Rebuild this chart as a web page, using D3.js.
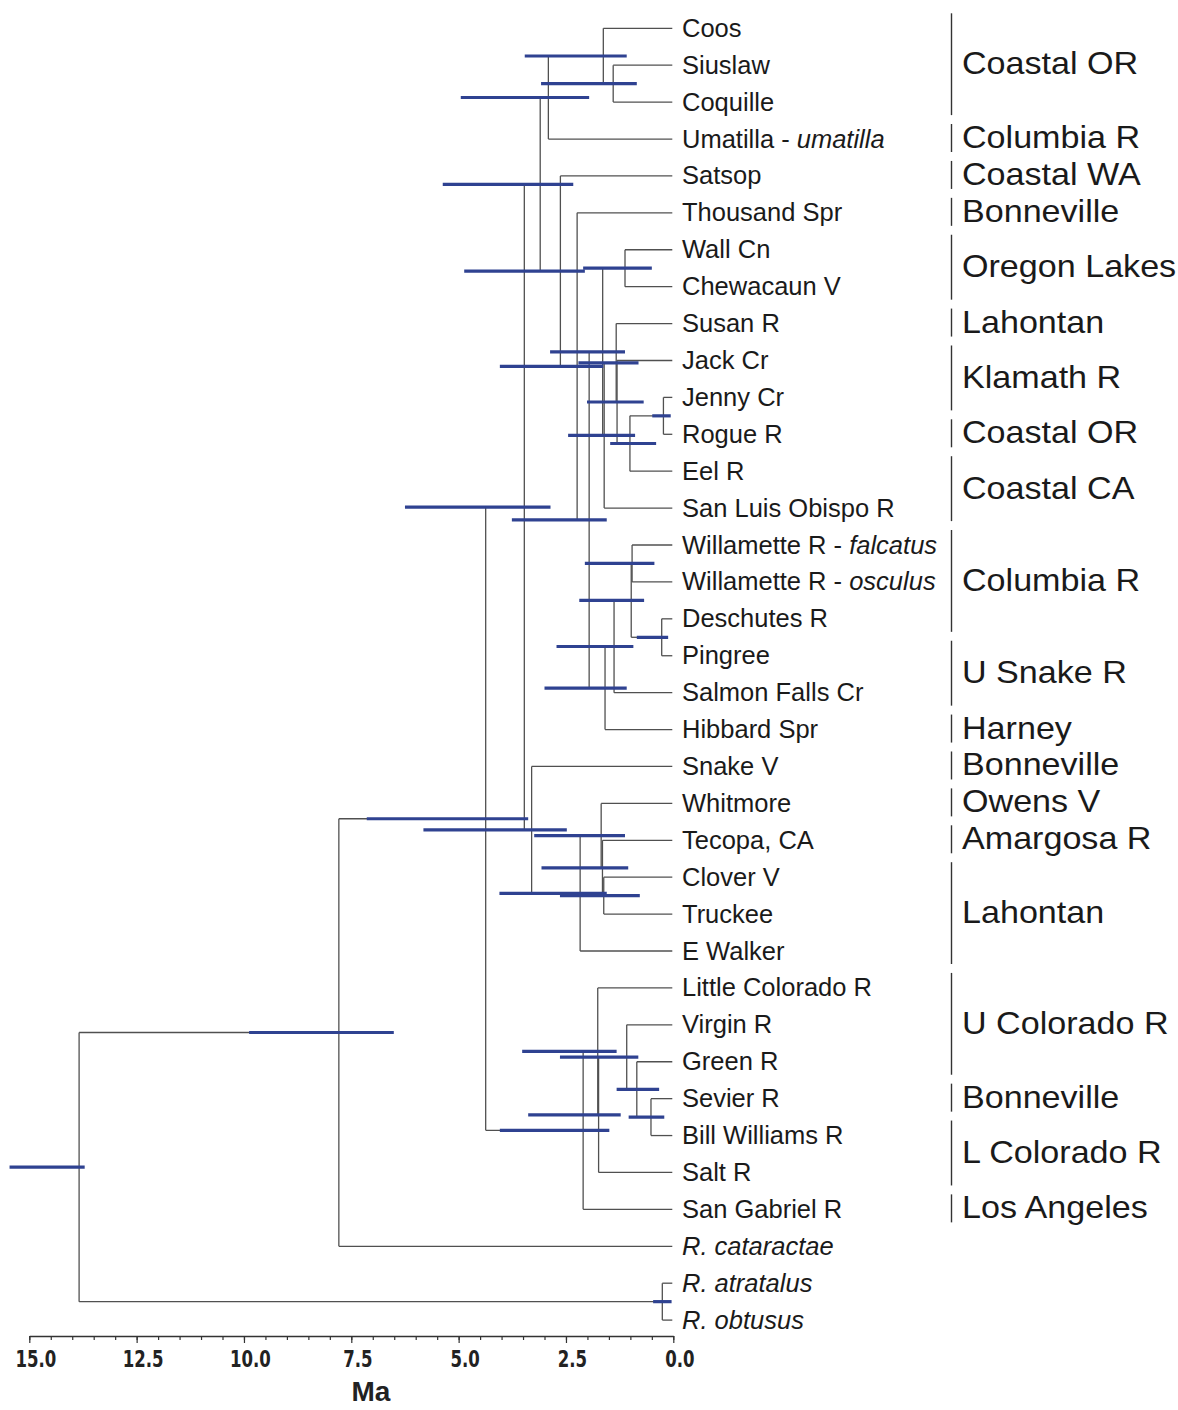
<!DOCTYPE html>
<html><head><meta charset="utf-8">
<script src="https://cdn.jsdelivr.net/npm/d3@7"></script>
<style>body{margin:0;background:#fff} svg{display:block}</style>
</head><body>
<svg id="chart" width="1178" height="1410"></svg>
<script>
// ---------- DATA ----------
const tipRoman = ["Coos","Siuslaw","Coquille","Umatilla - ","Satsop","Thousand Spr","Wall Cn","Chewacaun V","Susan R","Jack Cr","Jenny Cr","Rogue R","Eel R","San Luis Obispo R","Willamette R - ","Willamette R - ","Deschutes R","Pingree","Salmon Falls Cr","Hibbard Spr","Snake V","Whitmore","Tecopa, CA","Clover V","Truckee","E Walker","Little Colorado R","Virgin R","Green R","Sevier R","Bill Williams R","Salt R","San Gabriel R","","",""];
const tipItalic = ["","","","umatilla","","","","","","","","","","","falcatus","osculus","","","","","","","","","","","","","","","","","","R. cataractae","R. atratalus","R. obtusus"];

// internal nodes: children (tip labels or node ids), age (Ma), 95% HPD [low, high]
const nodes = [
 {id:"root", children:["nCat","nAO"], age:13.84, hpd:[13.71,15.46]},
 {id:"nCat", children:["n485","R. cataractae"], age:7.79, hpd:[6.51,9.88]},
 {id:"n485", children:["n524","n583"], age:4.37, hpd:[3.38,7.14]},
 {id:"n524", children:["n540","n531"], age:3.47, hpd:[2.86,6.25]},
 {id:"n540", children:["n548","n560"], age:3.10, hpd:[2.33,5.37]},
 {id:"n548", children:["nCoos","Umatilla - umatilla"], age:2.91, hpd:[1.96,4.95]},
 {id:"nCoos", children:["Coos","nSC"], age:1.63, hpd:[1.085,3.46]},
 {id:"nSC", children:["Siuslaw","Coquille"], age:1.40, hpd:[0.85,3.08]},
 {id:"n560", children:["Satsop","n577"], age:2.63, hpd:[2.06,4.87]},
 {id:"n577", children:["Thousand Spr","n589"], age:2.24, hpd:[1.63,4.04]},
 {id:"n589", children:["n602","n605"], age:1.96, hpd:[1.55,3.76]},
 {id:"n602", children:["nWC","n604"], age:1.645, hpd:[1.125,2.87]},
 {id:"nWC", children:["Wall Cn","Chewacaun V"], age:1.125, hpd:[0.50,2.10]},
 {id:"n604", children:["n616","San Luis Obispo R"], age:1.61, hpd:[0.89,2.45]},
 {id:"n616", children:["Susan R","nZ"], age:1.33, hpd:[0.81,2.21]},
 {id:"nZ", children:["Jack Cr","n630"], age:1.31, hpd:[0.69,2.01]},
 {id:"n630", children:["nJR","Eel R"], age:1.01, hpd:[0.40,1.47]},
 {id:"nJR", children:["Jenny Cr","Rogue R"], age:0.23, hpd:[0.06,0.49]},
 {id:"n605", children:["n614","Hibbard Spr"], age:1.59, hpd:[1.085,3.00]},
 {id:"n614", children:["n600","Salmon Falls Cr"], age:1.38, hpd:[0.93,2.72]},
 {id:"n600", children:["nWW","nDP"], age:0.98, hpd:[0.68,2.19]},
 {id:"nWW", children:["Willamette R - falcatus","Willamette R - osculus"], age:0.96, hpd:[0.44,2.06]},
 {id:"nDP", children:["Deschutes R","Pingree"], age:0.27, hpd:[0.12,0.85]},
 {id:"n531", children:["Snake V","n580"], age:3.30, hpd:[2.48,5.82]},
 {id:"n580", children:["n601","E Walker"], age:2.17, hpd:[1.55,4.05]},
 {id:"n601", children:["Whitmore","n868"], age:1.68, hpd:[1.125,3.24]},
 {id:"n868", children:["Tecopa, CA","n896"], age:1.65, hpd:[1.05,3.07]},
 {id:"n896", children:["Clover V","Truckee"], age:1.62, hpd:[0.78,2.64]},
 {id:"n583", children:["n597","San Gabriel R"], age:2.10, hpd:[1.49,4.04]},
 {id:"n597", children:["Little Colorado R","n598"], age:1.76, hpd:[1.32,3.52]},
 {id:"n598", children:["n626","Salt R"], age:1.74, hpd:[1.225,3.38]},
 {id:"n626", children:["Virgin R","n636"], age:1.085, hpd:[0.815,2.64]},
 {id:"n636", children:["Green R","n651"], age:0.85, hpd:[0.33,1.32]},
 {id:"n651", children:["Sevier R","Bill Williams R"], age:0.52, hpd:[0.21,1.04]},
 {id:"nAO", children:["R. atratalus","R. obtusus"], age:0.256, hpd:[0.04,0.47]}
];

const regionNames = ["Coastal OR","Columbia R","Coastal WA","Bonneville","Oregon Lakes","Lahontan","Klamath R","Coastal OR","Coastal CA","Columbia R","U Snake R","Harney","Bonneville","Owens V","Amargosa R","Lahontan","U Colorado R","Bonneville","L Colorado R","Los Angeles"];
const regionFirstTip = [0,3,4,5,6,8,9,11,12,14,17,19,20,21,22,23,26,29,30,32];
const regionLastTip  = [2,3,4,5,7,8,10,11,13,16,18,19,20,21,22,25,28,29,31,32];

const majorTicks = [15,12.5,10,7.5,5,2.5,0];
const minorTicks = d3.range(0,15.001,0.5);
const axisTitle = "Ma";

// ---------- LAYOUT ----------
const svg = d3.select("#chart");
const tipKeys = tipRoman.map((r,i)=>r+tipItalic[i]);
const x = d3.scaleLinear().domain([15,0]).range([29.3,673.3]);
const y = d3.scalePoint().domain(tipKeys).range([28.3,1320.1]);

const parentOf = {};
nodes.forEach(n=>n.children.forEach(c=>parentOf[c]=n.id));
const rows = nodes.map(n=>({id:n.id, age:n.age, hpd:n.hpd}))
  .concat(tipKeys.map((k,i)=>({id:k, age:0, tip:i})));
const root = d3.stratify().id(d=>d.id).parentId(d=>parentOf[d.id])(rows);
root.eachAfter(d=>{
  if(!d.children){ d.yy = y(d.id); d.minTip=d.data.tip; }
  else {
    d.children.sort((a,b)=>a.minTip-b.minTip);
    d.minTip = d.children[0].minTip;
    d.yy = (d.children[0].yy + d.children[d.children.length-1].yy)/2;
  }
  d.xx = x(d.data.age);
});

const branchColor = "#505050";
const gTree = svg.append("g");
gTree.selectAll("line.h").data(root.descendants().filter(d=>d.parent)).join("line")
  .attr("x1",d=>d.parent.xx).attr("x2",d=>d.data.tip!==undefined ? x(0)-1 : d.xx)
  .attr("y1",d=>d.yy).attr("y2",d=>d.yy)
  .attr("stroke",branchColor).attr("stroke-width",1.3);
gTree.selectAll("line.v").data(root.descendants().filter(d=>d.children)).join("line")
  .attr("x1",d=>d.xx).attr("x2",d=>d.xx)
  .attr("y1",d=>d.children[0].yy).attr("y2",d=>d.children[d.children.length-1].yy)
  .attr("stroke",branchColor).attr("stroke-width",1.3);
gTree.selectAll("line.hpd").data(root.descendants().filter(d=>d.children)).join("line")
  .attr("x1",d=>x(d.data.hpd[1])).attr("x2",d=>x(d.data.hpd[0]))
  .attr("y1",d=>d.yy).attr("y2",d=>d.yy)
  .attr("stroke","#2f4291").attr("stroke-width",3.2);

// tip labels
const tipText = svg.append("g").attr("font-family","'Liberation Sans', Arial, sans-serif")
  .attr("font-size",25.5).attr("fill","#1a1a1a");
tipKeys.forEach((k,i)=>{
  const t = tipText.append("text").attr("x",682).attr("y",y(k)+8.5);
  if(tipRoman[i]) t.append("tspan").text(tipRoman[i]);
  if(tipItalic[i]) t.append("tspan").attr("font-style","italic").text(tipItalic[i]);
});

// regions
const gReg = svg.append("g");
regionNames.forEach((name,i)=>{
  const y1 = y(tipKeys[regionFirstTip[i]]), y2 = y(tipKeys[regionLastTip[i]]);
  gReg.append("line").attr("x1",951.5).attr("x2",951.5)
    .attr("y1",y1-15).attr("y2",y2+13).attr("stroke","#333").attr("stroke-width",1.4);
  const cy = (y1+y2)/2 - 2;
  gReg.append("text").attr("transform",`translate(962,${cy+11}) scale(1.1,1)`)
    .attr("font-family","'Liberation Sans', Arial, sans-serif").attr("font-size",31)
    .attr("fill","#1a1a1a").text(name);
});

// axis
const axisY = 1336;
const gAx = svg.append("g").attr("transform",`translate(0,${axisY})`);
gAx.call(d3.axisBottom(x).tickValues(minorTicks).tickSize(4).tickSizeOuter(0).tickFormat(""));
gAx.select(".domain").remove();
const gAx2 = svg.append("g").attr("transform",`translate(0,${axisY})`);
gAx2.call(d3.axisBottom(x).tickValues(majorTicks).tickSize(7).tickSizeOuter(0).tickFormat(d3.format(".1f")));
svg.selectAll(".tick line").attr("stroke","#333").attr("stroke-width",1.2);
gAx2.select(".domain").attr("stroke","#333").attr("stroke-width",1.4);
gAx2.selectAll("text").attr("y",31.5).attr("dy",null)
  .attr("transform","translate(6,0) scale(0.8,1)")
  .attr("font-family","'Liberation Sans Narrow','DejaVu Sans Condensed','Arial Narrow',sans-serif")
  .attr("font-weight","bold").attr("font-size",23).attr("fill","#222");
svg.append("text").attr("x",371).attr("y",1401).attr("text-anchor","middle")
  .attr("font-family","'Liberation Sans', Arial, sans-serif").attr("font-weight","bold")
  .attr("font-size",28).attr("fill","#222").text(axisTitle);
</script>
</body></html>
